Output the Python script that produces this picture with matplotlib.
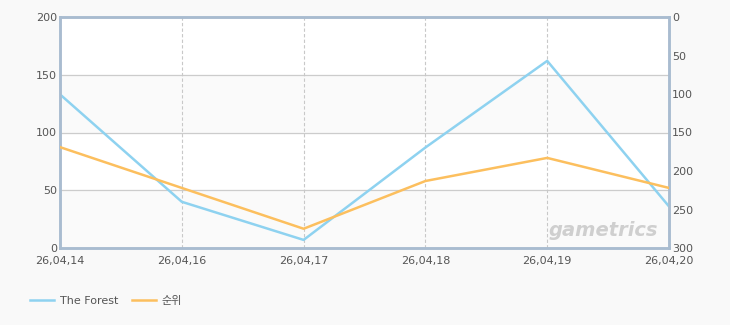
import numpy as np
import matplotlib.pyplot as plt

plt.rcParams['font.family'] = ['DejaVu Sans', 'Noto Sans CJK KR']

# data
dates = ['26,04,14', '26,04,16', '26,04,17', '26,04,18', '26,04,19', '26,04,20']
forest = [133, 40, 7, 87, 162, 36]
rank = [169, 222, 275, 213, 183, 222]

bg = '#f9f9f9'
spine_col = '#a9bcd0'
blue = '#8ed2f0'
orange = '#fcbf5e'

fig = plt.figure(figsize=(7.3, 3.25), dpi=100, facecolor=bg)
ax = fig.add_axes([60/730, 1 - 248/325, 609/730, 231/325])
ax.set_facecolor('white')

x = np.arange(len(dates))

# alternating bands
for lo, hi in [(0, 50), (100, 150)]:
    ax.axhspan(lo, hi, color='#fafafa', zorder=0)
for yv in [50, 100, 150]:
    ax.axhline(yv, color='#cccccc', lw=0.9, zorder=1)
for xv in x[1:-1]:
    ax.axvline(xv, color='#c8c8c8', lw=0.8, ls=(0, (3, 2)), zorder=1)

l1, = ax.plot(x, forest, color=blue, lw=1.8, zorder=3, label='The Forest')
ax.set_xlim(0, len(dates) - 1)
ax.set_ylim(0, 200)
ax.set_yticks([0, 50, 100, 150, 200])
ax.set_xticks(x)
ax.set_xticklabels(dates)

ax2 = ax.twinx()
l2, = ax2.plot(x, rank, color=orange, lw=1.8, zorder=3, label='순위')
ax2.set_ylim(300, 0)
ax2.set_yticks([0, 50, 100, 150, 200, 250, 300])

for a in (ax, ax2):
    for s in a.spines.values():
        s.set_color(spine_col)
        s.set_linewidth(1.8)
    a.tick_params(length=0, labelsize=8, colors='#555555', pad=2)
ax.tick_params(axis='x', pad=6)

ax.text(0.982, 0.035, 'gametrics', transform=ax.transAxes, ha='right', va='bottom',
        fontsize=14, fontweight='bold', fontstyle='italic', color='#cfcfcf', zorder=2)

fig.legend(handles=[l1, l2], loc='lower left', bbox_to_anchor=(20/730, 9/325),
           ncol=2, frameon=False, fontsize=8, handlelength=2.2, columnspacing=1.2,
           handletextpad=0.5, labelcolor='#555555')

fig.savefig('out.png', dpi=100, facecolor=bg)
